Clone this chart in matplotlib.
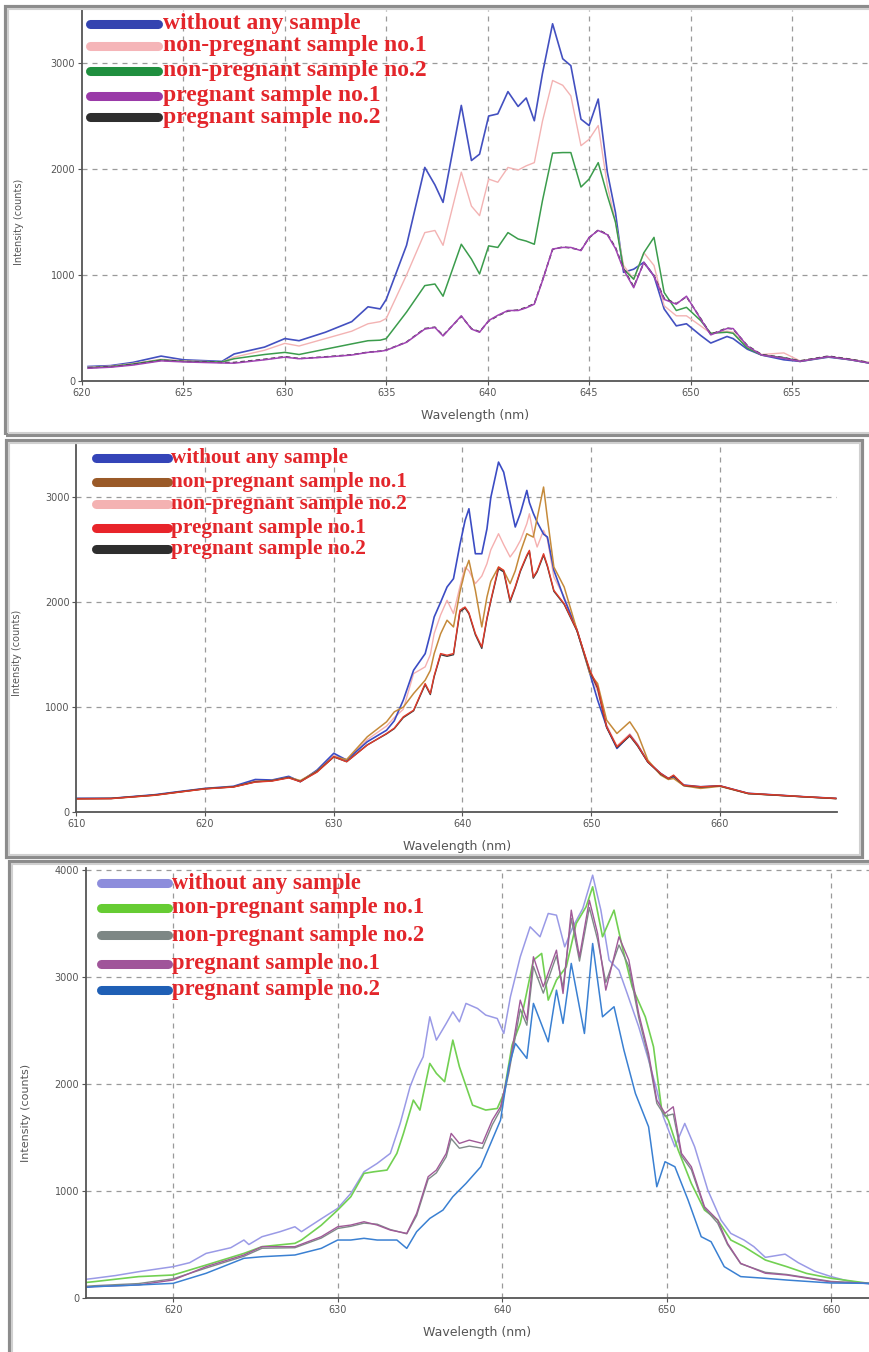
import matplotlib
matplotlib.use('Agg')
import matplotlib.pyplot as plt
from matplotlib.lines import Line2D
from matplotlib.patches import Rectangle

W, H = 869, 1352

legend_labels = ["without any sample", "non-pregnant sample no.1", "non-pregnant sample no.2",
                 "pregnant sample no.1", "pregnant sample no.2"]

# ---------------- Panel 1 data ----------------
p1_wl = [620.3, 621.4, 622.5, 623.9, 625.0, 626.9, 627.5, 629.0, 630.0, 630.7, 632.0, 633.3, 634.1, 634.7,
         635.0, 636.0, 636.9, 637.4, 637.8, 638.7, 639.2, 639.6, 640.05, 640.5, 641.0, 641.5, 641.9, 642.3,
         642.7, 643.2, 643.7, 644.1, 644.6, 645.0, 645.45, 645.9, 646.3, 646.7, 647.2, 647.7, 648.2, 648.7,
         649.3, 649.8, 650.5, 651.0, 651.8, 652.1, 652.8, 653.5, 654.6, 655.4, 656.8, 657.9, 658.8]
p1_without = [137, 145, 175, 235, 200, 185, 255, 320, 400, 380, 460, 560, 700, 680, 770, 1280, 2015, 1850, 1685,
              2600, 2080, 2140, 2500, 2520, 2730, 2590, 2670, 2455, 2900, 3370, 3040, 2975, 2470, 2410, 2660,
              1970, 1590, 1025, 1055, 1120, 990, 680, 520, 540, 430, 358, 420, 400, 300, 245, 200, 185, 225, 200, 170]
p1_nonpreg1 = [130, 140, 165, 205, 190, 180, 225, 290, 355, 330, 400, 470, 540, 560, 590, 1000, 1400, 1420, 1280,
               1970, 1650, 1560, 1905, 1875, 2015, 1990, 2030, 2060, 2450, 2835, 2790, 2690, 2220, 2280, 2410,
               1845, 1500, 1090, 960, 1210, 1090, 710, 615, 615, 520, 450, 470, 460, 320, 250, 265, 190, 230, 205, 175]
p1_nonpreg2 = [125, 135, 160, 200, 185, 180, 210, 250, 270, 250, 300, 350, 380, 385, 400, 650, 900, 915, 800,
               1290, 1150, 1010, 1275, 1260, 1400, 1340, 1320, 1290, 1700, 2150, 2155, 2155, 1830, 1905, 2060,
               1750, 1500, 1055, 960, 1210, 1355, 835, 665, 695, 570, 450, 460, 450, 310, 245, 220, 185, 230, 200, 170]
p1_preg1 = [120, 130, 150, 190, 180, 170, 168, 200, 225, 210, 225, 245, 270, 280, 290, 365, 490, 505, 425,
            615, 490, 460, 570, 620, 665, 665, 690, 725, 945, 1245, 1260, 1260, 1230, 1355, 1420,
            1380, 1250, 1050, 880, 1120, 990, 770, 725, 800, 585, 435, 495, 495, 330, 245, 215, 185, 230, 200, 170]
p1_preg2 = [125, 135, 155, 195, 185, 175, 175, 205, 230, 212, 228, 248, 272, 282, 292, 368, 495, 508, 430,
            610, 495, 465, 565, 615, 660, 670, 695, 730, 950, 1240, 1265, 1255, 1235, 1350, 1425,
            1385, 1260, 1060, 890, 1115, 995, 780, 730, 795, 590, 440, 500, 490, 335, 250, 220, 190, 235, 205, 175]

# ---------------- Panel 2 data ----------------
p2_wl = [610, 612.7, 616.1, 618, 620, 622.2, 623.9, 625.2, 626.5, 627.4, 628.7, 630, 631, 632.6, 634.1, 634.7,
         635.4, 636.2, 637.1, 637.5, 637.8, 638.3, 638.8, 639.3, 639.8, 640.2, 640.5, 641.0, 641.5, 641.9,
         642.2, 642.8, 643.2, 643.7, 644.1, 644.5, 645.0, 645.2, 645.5, 645.8, 646.3, 646.6, 647.1, 647.9,
         648.9, 649.9, 650.5, 651.2, 652.0, 653.0, 653.6, 654.4, 655.4, 656.0, 656.4, 657.2, 658.5, 660,
         662.2, 664.4, 666.5, 669]
p2_without = [130, 130, 165, 195, 225, 245, 310, 305, 340, 289, 400, 560, 495, 670, 780, 870, 1067, 1352, 1510, 1700,
              1860, 2000, 2146, 2225, 2550, 2780, 2892, 2463, 2463, 2700, 3000, 3337, 3241, 2950, 2718, 2850,
              3067, 2950, 2850, 2765, 2650, 2622, 2305, 2035, 1733, 1320, 1067, 813, 606, 733, 638, 479, 368,
              320, 336, 257, 241, 250, 178, 162, 146, 130]
p2_nonpreg1 = [125, 128, 160, 190, 222, 240, 290, 300, 330, 300, 390, 527, 500, 717, 860, 955, 1000, 1130, 1257, 1350,
               1511, 1700, 1829, 1765, 2100, 2300, 2400, 2114, 1765, 2050, 2200, 2336, 2300, 2178, 2300, 2479,
               2654, 2640, 2622, 2800, 3099, 2800, 2336, 2146, 1733, 1320, 1225, 876, 749, 860, 749, 495, 352,
               310, 320, 250, 225, 245, 175, 160, 145, 128]
p2_nonpreg2 = [128, 130, 162, 192, 225, 242, 300, 300, 335, 295, 395, 540, 498, 690, 820, 900, 980, 1320, 1384, 1500,
               1702, 1880, 2019, 1892, 2150, 2336, 2300, 2178, 2250, 2368, 2500, 2654, 2550, 2432, 2500, 2590,
               2750, 2844, 2650, 2527, 2686, 2600, 2241, 2050, 1740, 1330, 1150, 830, 630, 745, 650, 480, 360,
               315, 330, 255, 235, 248, 176, 161, 146, 129]
p2_preg1 = [125, 128, 160, 190, 220, 238, 285, 295, 325, 289, 380, 527, 479, 638, 749, 800, 908, 971, 1225, 1130,
            1300, 1511, 1495, 1511, 1924, 1955, 1900, 1702, 1575, 1850, 2019, 2336, 2305, 2019, 2150, 2305,
            2450, 2495, 2241, 2300, 2463, 2350, 2114, 1987, 1733, 1352, 1194, 813, 622, 733, 638, 479, 368,
            320, 352, 255, 241, 250, 178, 162, 146, 130]
p2_preg2 = [128, 130, 162, 192, 222, 240, 288, 298, 328, 290, 385, 525, 480, 640, 745, 795, 900, 965, 1215, 1120,
            1290, 1500, 1485, 1500, 1910, 1945, 1890, 1690, 1560, 1840, 2010, 2320, 2290, 2005, 2140, 2295,
            2440, 2485, 2230, 2290, 2450, 2340, 2105, 1980, 1725, 1340, 1180, 805, 615, 725, 630, 475, 362,
            318, 345, 252, 238, 248, 176, 160, 145, 128]

# ---------------- Panel 3 data ----------------
p3_wl_without = [614.7, 615.2, 616.5, 617.9, 620, 621, 622, 623.5, 624.3, 624.6, 625.4, 626.5, 627.4, 627.8, 629,
                 630, 630.8, 631.6, 632.4, 633.2, 633.8, 634.4, 634.8, 635.2, 635.6, 636, 636.6, 637, 637.4,
                 637.8, 638.5, 639, 639.7, 640.1, 640.5, 641.1, 641.7, 642.3, 642.8, 643.3, 643.8, 644.3, 644.9,
                 645.5, 646, 646.5, 647.1, 647.6, 648.3, 648.9, 649.4, 649.8, 650.5, 651.1, 651.7, 652.5, 653.3,
                 653.9, 654.7, 655.3, 656, 657.2, 658, 659, 660, 661, 662.3]
p3_without = [175, 184, 210, 246, 293, 330, 417, 470, 542, 500, 573, 620, 666, 620, 740, 838, 978, 1180, 1258, 1352,
              1632, 1975, 2131, 2255, 2629, 2411, 2567, 2676, 2582, 2754, 2707, 2645, 2613, 2473, 2816, 3190, 3470,
              3377, 3595, 3579, 3283, 3470, 3641, 3953, 3626, 3159, 3065, 2847, 2536, 2224, 1944, 1694, 1414, 1632,
              1414, 1009, 729, 604, 542, 480, 380, 410, 330, 250, 200, 160, 130]
p3_wl_nonpreg1 = [614.7, 615.2, 617.9, 620, 622, 624.3, 625.4, 627.4, 627.8, 629, 630, 630.8, 631.6, 632.2, 633,
                  633.6, 634, 634.6, 635, 635.6, 636, 636.5, 637, 637.4, 638.2, 639, 639.7, 640.1, 640.6, 641.1,
                  641.9, 642.4, 642.8, 643.3, 643.9, 644.5, 645.1, 645.5, 646.1, 646.8, 647.3, 647.9, 648.7, 649.2,
                  649.7, 650.1, 650.7, 651.5, 652.3, 653.1, 653.9, 654.7, 656, 657.3, 658.5, 660, 662.3]
p3_nonpreg1 = [145, 153, 200, 215, 308, 417, 480, 511, 542, 680, 822, 947, 1165, 1180, 1196, 1352, 1539, 1850, 1757,
               2193, 2100, 2022, 2411, 2162, 1803, 1757, 1772, 1912, 2364, 2567, 3159, 3221, 2785, 2972, 3097, 3501,
               3657, 3844, 3377, 3626, 3283, 2909, 2629, 2349, 1757, 1663, 1383, 1071, 822, 729, 542, 480, 355,
               293, 230, 184, 137]
p3_wl_preg1 = [614.7, 615.2, 617.9, 620, 622, 624.3, 625.4, 627.4, 629, 630, 630.8, 631.6, 632.4, 633.2, 634.2,
               634.8, 635.5, 636, 636.6, 636.9, 637.4, 638, 638.8, 639.4, 639.9, 640.4, 641.1, 641.5, 641.9, 642.5,
               643.3, 643.7, 644.2, 644.7, 645.3, 645.8, 646.3, 647.1, 647.7, 648.3, 648.9, 649.4, 649.9, 650.4,
               650.9, 651.5, 652.3, 653.1, 653.7, 654.5, 656, 657.3, 660, 662.3]
p3_preg1 = [100, 106, 122, 168, 293, 402, 480, 480, 573, 666, 682, 713, 682, 635, 604, 791, 1134, 1196, 1352, 1539,
            1445, 1476, 1445, 1663, 1788, 2131, 2785, 2598, 3190, 2909, 3252, 2847, 3626, 3190, 3719, 3408, 2878,
            3377, 3159, 2660, 2286, 1850, 1726, 1788, 1352, 1227, 853, 729, 511, 324, 231, 215, 150, 137]
p3_nonpreg2 = [110, 115, 135, 180, 280, 390, 465, 470, 560, 650, 670, 700, 690, 640, 600, 770, 1110, 1170, 1320,
               1490, 1400, 1420, 1400, 1620, 1760, 2100, 2700, 2550, 3100, 2850, 3200, 2900, 3550, 3150, 3650,
               3350, 2950, 3300, 3100, 2620, 2250, 1820, 1700, 1720, 1330, 1200, 840, 700, 500, 320, 240, 220, 155, 137]
p3_wl_preg2 = [614.7, 615.2, 617.9, 620, 622, 624.3, 625.4, 627.4, 629, 630, 630.8, 631.6, 632.4, 633.6, 634.2,
               634.8, 635.6, 636.4, 637, 637.8, 638.7, 639.3, 639.9, 640.4, 640.8, 641.5, 641.9, 642.8, 643.3,
               643.7, 644.2, 645, 645.5, 646.1, 646.8, 647.4, 648.1, 648.9, 649.4, 649.9, 650.5, 651.3, 652.1,
               652.7, 653.5, 654.5, 656, 657.3, 660, 662.3]
p3_preg2 = [100, 106, 122, 137, 231, 371, 386, 402, 464, 542, 542, 558, 542, 542, 464, 620, 744, 822, 947, 1071,
            1227, 1445, 1663, 2162, 2380, 2240, 2754, 2395, 2878, 2567, 3128, 2473, 3314, 2629, 2723, 2318, 1912,
            1601, 1040, 1274, 1227, 916, 573, 526, 293, 200, 184, 168, 140, 137]

# ---------------- figure ----------------
fig = plt.figure(figsize=(W / 100, H / 100), dpi=100)
fig.patch.set_facecolor('white')


def fx(px):
    return px / W


def fy(py):
    return 1 - py / H


def frame(x0, y0, x1, y1):
    r = Rectangle((fx(x0), fy(y1)), fx(x1) - fx(x0), fy(y0) - fy(y1), transform=fig.transFigure,
                  fill=False, edgecolor='#8c8c8c', lw=3, zorder=0.5)
    fig.add_artist(r)
    r2 = Rectangle((fx(x0 + 2), fy(y1 - 2)), fx(x1 - 2) - fx(x0 + 2), fy(y0 + 2) - fy(y1 - 2),
                   transform=fig.transFigure, fill=False, edgecolor='#d0d0d0', lw=1.5, zorder=0.5)
    fig.add_artist(r2)


frame(6, 7, 880, 435)
frame(7, 441, 862, 857)
frame(10, 862, 890, 1370)


def make_ax(left, right, top, bottom, xlim, ylim, xticks, yticks, grid_x, ylab_xy, ylab_fs):
    ax = fig.add_axes([fx(left), fy(bottom), fx(right) - fx(left), fy(top) - fy(bottom)])
    ax.set_xlim(*xlim)
    ax.set_ylim(*ylim)
    ax.set_xticks(xticks)
    ax.set_yticks(yticks)
    for s in ['top', 'right']:
        ax.spines[s].set_visible(False)
    for s in ['left', 'bottom']:
        ax.spines[s].set_color('#555555')
        ax.spines[s].set_linewidth(1.3)
    ax.tick_params(axis='both', labelsize=7, colors='#555555', length=3, width=0.8, pad=2)
    for gx in grid_x:
        ax.axvline(gx, color='#9a9a9a', lw=0.9, ls=(0, (4, 4)), zorder=0)
    for gy in yticks[1:]:
        ax.axhline(gy, color='#9a9a9a', lw=0.9, ls=(0, (4, 4)), zorder=0)
    ax.set_xlabel('Wavelength (nm)', fontsize=9, color='#555555', labelpad=8)
    ax.set_ylabel('Intensity (counts)', fontsize=ylab_fs, color='#555555')
    ax.yaxis.set_label_coords(*ylab_xy)
    return ax


def legend(x0, x1, xt, ys, colors, fs):
    for y, c, lab in zip(ys, colors, legend_labels):
        fig.add_artist(Line2D([fx(x0), fx(x1)], [fy(y), fy(y)], color=c, lw=6.5,
                              solid_capstyle='round', transform=fig.transFigure, zorder=5))
        fig.text(fx(xt), fy(y), lab, color='#e3262b', fontsize=fs, fontweight='bold',
                 family=['Liberation Serif', 'DejaVu Serif'], va='center', ha='left', zorder=6)


# Panel 1
ax1 = make_ax(82, 869, 10, 381, (620, 658.8), (0, 3500), [620, 625, 630, 635, 640, 645, 650, 655],
              [0, 1000, 2000, 3000], [625, 630, 635, 640, 645, 650, 655], (-0.074, 0.43), 7)
c1 = ['#4350c0', '#f3b3b3', '#3b9c4c', '#404040', '#a043b3']
ax1.plot(p1_wl, p1_without, color=c1[0], lw=1.2)
ax1.plot(p1_wl, p1_nonpreg1, color=c1[1], lw=1.0)
ax1.plot(p1_wl, p1_nonpreg2, color=c1[2], lw=1.1)
ax1.plot(p1_wl, p1_preg2, color=c1[3], lw=1.1, ls=(0, (3, 2)))
ax1.plot(p1_wl, p1_preg1, color=c1[4], lw=1.1)
legend(90, 158, 163, [24, 46, 70.5, 96, 117], ['#3444b0', '#f5b5b8', '#1f8f3f', '#9a3aa8', '#2e2e2e'], 17)

# Panel 2
ax2 = make_ax(76.4, 837, 445, 812, (610, 669.1), (0, 3500), [610, 620, 630, 640, 650, 660],
              [0, 1000, 2000, 3000], [620, 630, 640, 650, 660], (-0.072, 0.433), 7)
ax2.plot(p2_wl, p2_nonpreg2, color='#f5b0b0', lw=1.0)
ax2.plot(p2_wl, p2_without, color='#3b4cc4', lw=1.2)
ax2.plot(p2_wl, p2_nonpreg1, color='#c58a3a', lw=1.1)
ax2.plot(p2_wl, p2_preg2, color='#3a3a3a', lw=1.0)
ax2.plot(p2_wl, p2_preg1, color='#e03a2a', lw=1.0)
legend(96, 168, 171, [458, 482, 503.5, 528, 549], ['#3444b8', '#9a5a28', '#f4b2b2', '#e8242a', '#2e2e2e'], 15.3)

# Panel 3
ax3 = make_ax(86, 869, 868, 1298, (614.7, 662.3), (0, 4020), [620, 630, 640, 650, 660],
              [0, 1000, 2000, 3000, 4000], [620, 630, 640, 650, 660], (-0.07, 0.43), 8)
ax3.plot(p3_wl_without, p3_without, color='#9a9ae6', lw=1.1)
ax3.plot(p3_wl_nonpreg1, p3_nonpreg1, color='#72d052', lw=1.2)
ax3.plot(p3_wl_preg1, p3_nonpreg2, color='#7f8a88', lw=1.0)
ax3.plot(p3_wl_preg1, p3_preg1, color='#a05a98', lw=1.0)
ax3.plot(p3_wl_preg2, p3_preg2, color='#3a80d2', lw=1.1)
legend(101, 168, 172, [883, 908, 935, 964, 990], ['#8d8ddc', '#66cc33', '#7d8785', '#a0559a', '#1f5fb5'], 16.3)

fig.savefig('out.png', dpi=100, facecolor='white')
